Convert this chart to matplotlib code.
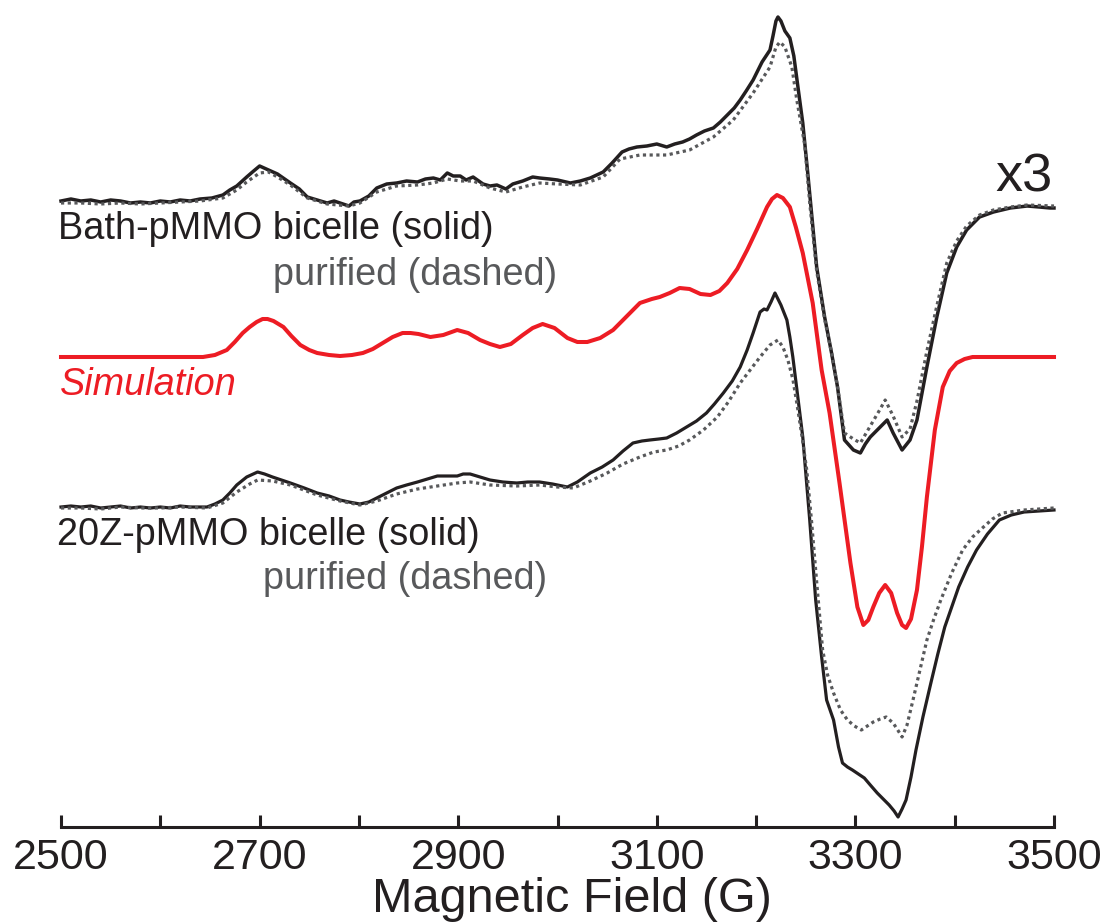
import matplotlib
matplotlib.use("Agg")
import matplotlib.pyplot as plt

plt.rcParams['font.family'] = ['Liberation Sans', 'DejaVu Sans']

# EPR derivative spectra, field in gauss, intensity in arbitrary units (relative to each baseline)
bath_field = [2500, 2510, 2520, 2530, 2540, 2550, 2560, 2570, 2580, 2590, 2600, 2610, 2620, 2630, 2640,
              2652, 2663, 2670, 2677, 2687, 2694, 2700, 2709, 2718, 2731, 2740, 2748, 2758, 2768, 2775,
              2781, 2790, 2795, 2801, 2810, 2818, 2828, 2838, 2848, 2859, 2867, 2875, 2882, 2889, 2895,
              2902, 2908, 2915, 2925, 2932, 2939, 2948, 2955, 2965, 2975, 2982, 2992, 3000, 3013, 3023,
              3033, 3046, 3055, 3065, 3072, 3080, 3090, 3100, 3110, 3118, 3126, 3133, 3140, 3148, 3157,
              3164, 3171, 3178, 3184, 3190, 3197, 3206, 3214, 3217, 3220, 3222, 3225, 3229, 3234, 3238,
              3242, 3247, 3252, 3261, 3269, 3276, 3282, 3289, 3298, 3305, 3310, 3315, 3325, 3332, 3338,
              3347, 3355, 3362, 3372, 3382, 3392, 3402, 3412, 3425, 3439, 3456, 3473, 3485, 3496, 3500]
bath_bicelle = [0, 2, 0, 1, -1, 1, 0, -2, -1, -2, 0, -1, 1, 0, 2,
                3, 6, 11, 15, 24, 30, 35, 31, 27, 18, 12, 4, 1, -2, 0,
                -2, -5, -1, 0, 5, 13, 17, 18, 20, 19, 22, 23, 21, 28, 25,
                25, 21, 24, 17, 15, 16, 12, 17, 20, 24, 23, 22, 21, 18, 20,
                23, 29, 38, 49, 52, 54, 55, 57, 54, 57, 59, 62, 66, 70, 73,
                79, 86, 93, 101, 110, 121, 139, 151, 165, 180, 184, 180, 170, 163, 145,
                115, 78, 28, -66, -116, -152, -186, -239, -249, -252, -243, -236, -226, -219, -232,
                -249, -239, -219, -166, -116, -72, -46, -29, -16, -11, -7, -5, -6, -7, -7]

bath_pur_field = [2500, 2520, 2540, 2560, 2580, 2600, 2620, 2640, 2663, 2677, 2687, 2700, 2709, 2718,
                  2731, 2748, 2768, 2790, 2801, 2818, 2838, 2859, 2875, 2889, 2902, 2915, 2932, 2948,
                  2965, 2982, 3000, 3023, 3046, 3063, 3083, 3110, 3133, 3157, 3177, 3197, 3214, 3220,
                  3224, 3229, 3236, 3241, 3249, 3254, 3261, 3269, 3276, 3282, 3289, 3298, 3305, 3315,
                  3325, 3330, 3338, 3347, 3355, 3362, 3372, 3382, 3392, 3402, 3412, 3425, 3439, 3456,
                  3473, 3500]
bath_purified = [-2, -2, -3, -2, -3, -2, -1, 0, 3, 11, 19, 28, 29, 24,
                 16, 3, -3, -5, -2, 9, 15, 16, 18, 22, 20, 20, 13, 9,
                 14, 18, 17, 16, 24, 42, 46, 46, 51, 64, 81, 108, 134, 154,
                 159, 154, 134, 101, 56, -2, -70, -118, -152, -186, -232, -238, -242, -225,
                 -208, -199, -215, -236, -228, -200, -150, -105, -62, -40, -25, -14, -9, -6,
                 -4, -5]

sim_field = [2500, 2600, 2643, 2655, 2667, 2675, 2683, 2690, 2697, 2703, 2708, 2714, 2724, 2732, 2741,
             2750, 2758, 2770, 2781, 2793, 2804, 2814, 2824, 2834, 2844, 2852, 2860, 2872, 2885, 2899,
             2910, 2922, 2932, 2942, 2953, 2965, 2975, 2985, 2997, 3010, 3020, 3030, 3043, 3056, 3070,
             3083, 3095, 3103, 3113, 3123, 3133, 3144, 3154, 3163, 3171, 3181, 3191, 3201, 3211, 3216,
             3221, 3227, 3234, 3240, 3247, 3257, 3266, 3274, 3284, 3295, 3302, 3308, 3313, 3318, 3324,
             3330, 3336, 3342, 3347, 3351, 3356, 3362, 3367, 3372, 3380, 3388, 3395, 3402, 3410, 3418, 3500]
simulation = [0, 0, 0, 2, 7, 15, 24, 30, 35, 38, 38, 36, 30, 21, 12,
              7, 4, 2, 1, 2, 4, 8, 14, 20, 24, 24, 23, 20, 22, 27,
              24, 17, 13, 10, 13, 22, 29, 33, 29, 19, 15, 15, 19, 27, 41,
              54, 58, 60, 64, 69, 68, 63, 62, 66, 74, 88, 107, 128, 150, 158,
              162, 159, 150, 130, 104, 54, -13, -56, -126, -206, -250, -268, -263, -250, -236,
              -228, -236, -256, -268, -271, -262, -233, -190, -140, -73, -30, -14, -6, -2, 0, 0]

z20_field = [2500, 2510, 2520, 2530, 2540, 2550, 2560, 2570, 2580, 2590, 2600, 2610, 2620, 2630, 2647,
             2655, 2663, 2670, 2677, 2687, 2698, 2705, 2713, 2722, 2731, 2745, 2758, 2770, 2781, 2790,
             2801, 2810, 2818, 2828, 2838, 2848, 2859, 2869, 2879, 2889, 2899, 2905, 2912, 2922, 2932,
             2945, 2959, 2970, 2982, 2995, 3010, 3020, 3033, 3045, 3056, 3066, 3076, 3085, 3093, 3102,
             3110, 3120, 3130, 3140, 3150, 3158, 3167, 3176, 3184, 3191, 3197, 3204, 3208, 3211, 3215,
             3219, 3225, 3231, 3234, 3237, 3242, 3247, 3254, 3260, 3266, 3271, 3278, 3283, 3287, 3292,
             3297, 3303, 3309, 3315, 3322, 3328, 3334, 3339, 3343, 3347, 3351, 3356, 3361, 3368, 3376,
             3383, 3390, 3397, 3404, 3413, 3422, 3433, 3445, 3457, 3470, 3485, 3500]
z20_bicelle = [0, 1, 0, 1, -1, 0, 1, -1, 0, -1, 0, -1, 1, 0, 0,
               3, 7, 14, 22, 30, 35, 33, 30, 27, 24, 19, 14, 11, 7, 5,
               3, 5, 9, 14, 19, 22, 25, 28, 31, 31, 31, 33, 33, 30, 27,
               25, 24, 25, 25, 23, 20, 25, 34, 40, 47, 56, 64, 66, 67, 68,
               69, 74, 80, 86, 94, 103, 114, 126, 140, 157, 174, 195, 198, 197, 205,
               214, 202, 187, 170, 150, 110, 70, -13, -93, -150, -193, -213, -240, -256, -260,
               -263, -267, -271, -278, -286, -292, -298, -304, -310, -302, -293, -270, -243, -210, -176,
               -147, -120, -100, -80, -60, -43, -27, -13, -8, -5, -4, -3]

z20_pur_field = [2500, 2520, 2540, 2560, 2580, 2600, 2620, 2647, 2663, 2677, 2690, 2698, 2713, 2731,
                 2758, 2781, 2801, 2818, 2838, 2859, 2879, 2899, 2912, 2932, 2959, 2982, 3000, 3016,
                 3033, 3050, 3066, 3083, 3097, 3110, 3122, 3133, 3147, 3161, 3172, 3184, 3194, 3204,
                 3214, 3222, 3227, 3232, 3237, 3241, 3246, 3251, 3256, 3261, 3267, 3272, 3278, 3285,
                 3292, 3299, 3306, 3312, 3318, 3325, 3331, 3338, 3342, 3347, 3352, 3358, 3365, 3372,
                 3379, 3386, 3397, 3408, 3418, 3429, 3438, 3448, 3470, 3500]
z20_purified = [-1, -1, -2, 0, -1, -1, 0, -1, 4, 15, 23, 27, 26, 22,
                12, 6, 2, 6, 13, 18, 21, 24, 25, 22, 21, 22, 20, 19,
                26, 34, 43, 50, 55, 57, 61, 67, 77, 90, 105, 124, 137, 150,
                162, 167, 160, 147, 128, 104, 72, 37, -16, -75, -143, -168, -186, -203,
                -213, -219, -223, -219, -215, -212, -210, -216, -222, -230, -218, -193, -163, -133,
                -112, -93, -66, -43, -30, -20, -12, -6, -3, -1]

# vertical stacking of the three spectra
offset_bath = 626
offset_sim = 470
offset_z20 = 320

black = '#231f20'
gray = '#58595b'
red = '#ed1c24'

fig = plt.figure(figsize=(11.02, 9.24), dpi=100)
ax = fig.add_axes([61 / 1102, 97 / 924, 993 / 1102, 827 / 924])

ax.plot(bath_field, [v + offset_bath for v in bath_bicelle], '-', color=black, lw=2.5, clip_on=False)
ax.plot(bath_pur_field, [v + offset_bath for v in bath_purified], color=gray, lw=2.3,
        linestyle=(0, (1, 1.1)), clip_on=False)
ax.plot(z20_field, [v + offset_z20 for v in z20_bicelle], '-', color=black, lw=2.3, clip_on=False)
ax.plot(z20_pur_field, [v + offset_z20 for v in z20_purified], color=gray, lw=2.3,
        linestyle=(0, (1, 1.1)), clip_on=False)
ax.plot(sim_field, [v + offset_sim for v in simulation], '-', color=red, lw=2.9, clip_on=False)

ax.text(2497, 588, 'Bath-pMMO bicelle (solid)', fontsize=27.3, color=black, va='baseline')
ax.text(2713, 542, 'purified (dashed)', fontsize=27.3, color=gray, va='baseline')
ax.text(2499, 432, 'Simulation', fontsize=27.3, color=red, style='italic', va='baseline')
ax.text(2496, 282, '20Z-pMMO bicelle (solid)', fontsize=27.3, color=black, va='baseline')
ax.text(2703, 238, 'purified (dashed)', fontsize=27.3, color=gray, va='baseline')
ax.text(3499, 635, 'x3', fontsize=39, color=black, ha='right', va='baseline')

ax.set_xlim(2500, 3500)
ax.set_ylim(0, 827)
ticks = list(range(2500, 3501, 100))
ax.set_xticks(ticks)
ax.set_xticklabels([str(t) if (t - 2500) % 200 == 0 else '' for t in ticks])
ax.tick_params(axis='x', direction='in', length=8.5, width=2.2, color=black,
               labelsize=31, labelcolor=black, pad=8)
ax.set_yticks([])
for side in ['left', 'right', 'top']:
    ax.spines[side].set_visible(False)
ax.spines['bottom'].set_linewidth(2.2)
ax.spines['bottom'].set_color(black)
ax.patch.set_alpha(0)

fig.text(572 / 1102, 12 / 924, 'Magnetic Field (G)', fontsize=35, color=black,
         ha='center', va='baseline')

fig.savefig('out.png', dpi=100)
